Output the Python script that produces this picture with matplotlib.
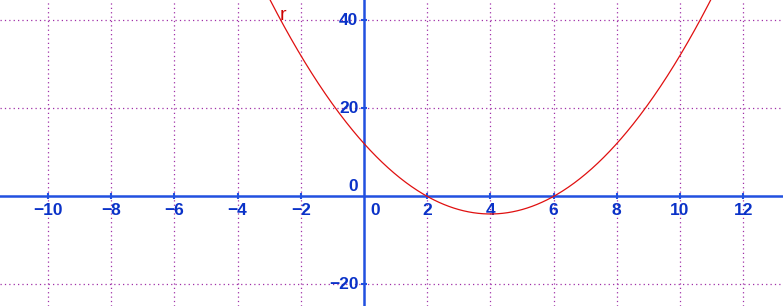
import numpy as np
import matplotlib
matplotlib.use("Agg")
import matplotlib.pyplot as plt

# Function r(x) = x^2 - 8x + 12 (roots at 2 and 6, vertex (4, -4))
coeffs = [1, -8, 12]
curve_label = "r"
x_ticks = [-10, -8, -6, -4, -2, 0, 2, 4, 6, 8, 10, 12]
y_ticks = [-20, 0, 20, 40]

XMIN, XMAX = -11.52, 13.26
YMIN, YMAX = -24.9, 44.6

label_color = "#0a32c8"
axis_color = "#2150e0"
grid_color = "#a030a8"
curve_color = "#e01010"

fig = plt.figure(figsize=(7.83, 3.06), dpi=100)
ax = fig.add_axes([0, 0, 1, 1])
ax.set_xlim(XMIN, XMAX)
ax.set_ylim(YMIN, YMAX)
for s in ax.spines.values():
    s.set_visible(False)
ax.set_xticks([])
ax.set_yticks([])

# grid
for xv in x_ticks:
    if xv != 0:
        ax.axvline(xv, color=grid_color, lw=0.9, ls=(0, (1, 2.5)), zorder=1)
for yv in y_ticks:
    if yv != 0:
        ax.axhline(yv, color=grid_color, lw=0.9, ls=(0, (1, 2.5)), zorder=1)

# axes
ax.axhline(0, color=axis_color, lw=1.8, zorder=2)
ax.axvline(0, color=axis_color, lw=1.8, zorder=2)

# tick marks
xt = [v for v in x_ticks if v != 0]
yt = [v for v in y_ticks if v != 0]
ax.plot(xt, [0] * len(xt), ls="none", marker="|", ms=5, mew=1.5, color=axis_color, zorder=3)
ax.plot([0] * len(yt), yt, ls="none", marker="_", ms=5, mew=1.5, color=axis_color, zorder=3)

font = dict(family=["Liberation Sans", "DejaVu Sans"], fontsize=12.5, fontweight="bold", color=label_color)
for xv in x_ticks:
    if xv == 0:
        ax.annotate("0", (0, 0), xytext=(8, -5), textcoords="offset points",
                    ha="center", va="top", **font)
    else:
        ax.annotate(str(xv).replace("-", "\u2212"), (xv, 0), xytext=(0, -5),
                    textcoords="offset points", ha="center", va="top", **font)
for yv in y_ticks:
    if yv == 0:
        ax.annotate("0", (0, 0), xytext=(-4, 2), textcoords="offset points",
                    ha="right", va="bottom", **font)
    else:
        ax.annotate(str(yv).replace("-", "\u2212"), (0, yv), xytext=(-4, 0),
                    textcoords="offset points", ha="right", va="center", **font)

# curve
xs = np.linspace(XMIN, XMAX, 800)
ax.plot(xs, np.polyval(coeffs, xs), color=curve_color, lw=0.9, zorder=4)
ax.text(-2.55, 41.0, curve_label, color="#cc0000", fontsize=14,
        family=["Liberation Sans", "DejaVu Sans"], ha="center", va="center", zorder=5)

fig.savefig("out.png", dpi=100)
